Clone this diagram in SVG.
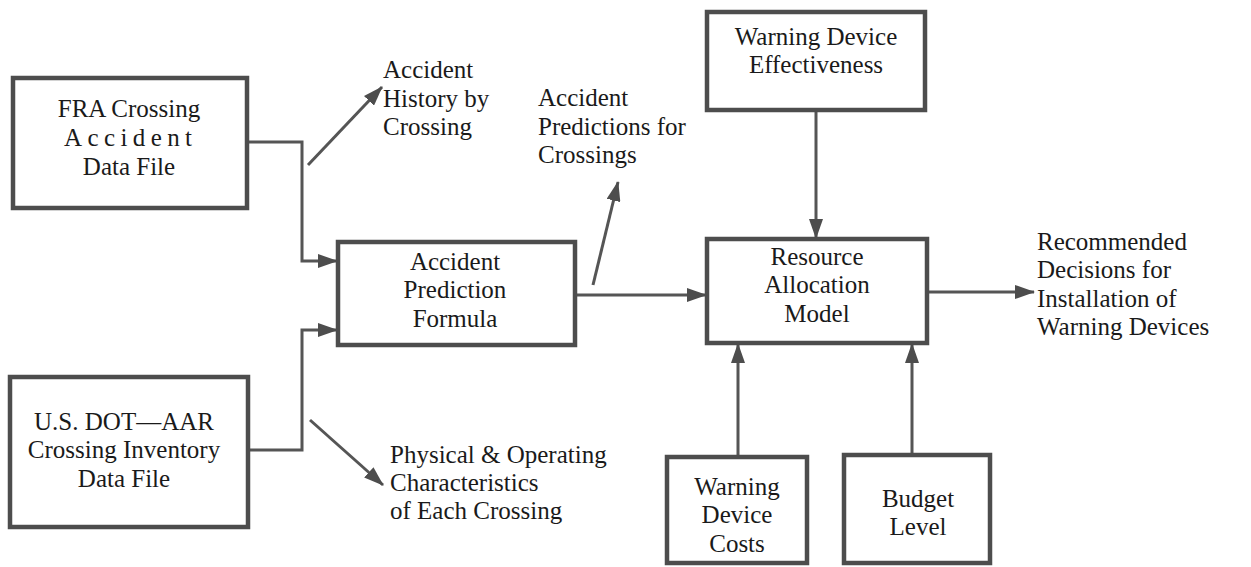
<svg xmlns="http://www.w3.org/2000/svg" width="1251" height="567" viewBox="0 0 1251 567">
<style>
.box{fill:#fff;stroke:#4d4d4d;stroke-width:4.5}
.ln{fill:none;stroke:#555;stroke-width:3}
.t text{font-size:25px;fill:#1a1a1a}
.c{text-anchor:middle}
</style>
<defs>
<marker id="ah" viewBox="0 0 20 14" refX="19" refY="7" markerWidth="20" markerHeight="14" markerUnits="userSpaceOnUse" orient="auto">
<path d="M0,0 L20,7 L0,14 Z" fill="#4d4d4d"/>
</marker>
</defs>
<rect width="1251" height="567" fill="#fff"/>
<g id="connectors">
<polyline class="ln" points="247,142 302,142 302,261 337,261" marker-end="url(#ah)"/>
<polyline class="ln" points="248,450 302,450 302,330 337,330" marker-end="url(#ah)"/>
<line class="ln" x1="308" y1="165" x2="382" y2="87" marker-end="url(#ah)"/>
<line class="ln" x1="310" y1="420" x2="383" y2="485" marker-end="url(#ah)"/>
<line class="ln" x1="593" y1="285" x2="618" y2="182" marker-end="url(#ah)"/>
<line class="ln" x1="575" y1="295" x2="706" y2="295" marker-end="url(#ah)"/>
<line class="ln" x1="816" y1="110" x2="816" y2="238" marker-end="url(#ah)"/>
<line class="ln" x1="927" y1="292" x2="1034" y2="292" marker-end="url(#ah)"/>
<line class="ln" x1="738" y1="457" x2="738" y2="344" marker-end="url(#ah)"/>
<line class="ln" x1="912" y1="455" x2="912" y2="344" marker-end="url(#ah)"/>
</g>
<g class="t" font-family="'Liberation Serif', 'DejaVu Serif', serif">
<g id="fra">
<rect class="box" x="13" y="78" width="234" height="130"/>
<text class="c" x="129" y="117">FRA Crossing</text>
<text x="64" y="146" textLength="128" lengthAdjust="spacing">Accident</text>
<text class="c" x="129" y="175">Data File</text>
</g>
<g id="usdot">
<rect class="box" x="10" y="377" width="238" height="150"/>
<text class="c" x="124" y="430">U.S. DOT—AAR</text>
<text class="c" x="124" y="458">Crossing Inventory</text>
<text class="c" x="124" y="487">Data File</text>
</g>
<g id="apf">
<rect class="box" x="338" y="242" width="237" height="103"/>
<text class="c" x="455" y="270">Accident</text>
<text class="c" x="455" y="298">Prediction</text>
<text class="c" x="455" y="327">Formula</text>
</g>
<g id="wde">
<rect class="box" x="707" y="12" width="218" height="98"/>
<text class="c" x="816" y="45">Warning Device</text>
<text class="c" x="816" y="73">Effectiveness</text>
</g>
<g id="ram">
<rect class="box" x="707" y="239" width="220" height="104"/>
<text class="c" x="817" y="265">Resource</text>
<text class="c" x="817" y="293">Allocation</text>
<text class="c" x="817" y="322">Model</text>
</g>
<g id="wdc">
<rect class="box" x="667" y="457" width="140" height="106"/>
<text class="c" x="737" y="495">Warning</text>
<text class="c" x="737" y="523">Device</text>
<text class="c" x="737" y="552">Costs</text>
</g>
<g id="budget">
<rect class="box" x="844" y="455" width="146" height="108"/>
<text class="c" x="918" y="507">Budget</text>
<text class="c" x="918" y="535">Level</text>
</g>
<g id="labels">
<text x="383" y="78">Accident</text>
<text x="383" y="107">History by</text>
<text x="383" y="135">Crossing</text>
<text x="538" y="106">Accident</text>
<text x="538" y="135">Predictions for</text>
<text x="538" y="163">Crossings</text>
<text x="390" y="463">Physical &amp; Operating</text>
<text x="390" y="491">Characteristics</text>
<text x="390" y="519">of Each Crossing</text>
<text x="1037" y="250">Recommended</text>
<text x="1037" y="278">Decisions for</text>
<text x="1037" y="307">Installation of</text>
<text x="1037" y="335">Warning Devices</text>
</g>
</g>
</svg>
